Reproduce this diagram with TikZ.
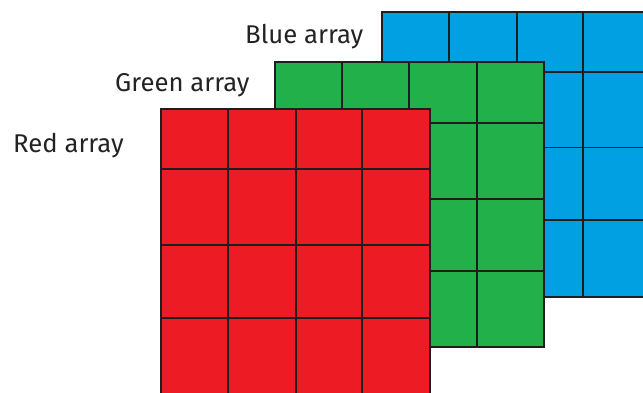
\documentclass[tikz,border=0pt]{standalone}
\usepackage{fontspec}
\setmainfont{Fira Sans}
\definecolor{arrblue}{RGB}{0,160,227}
\definecolor{arrgreen}{RGB}{34,176,74}
\definecolor{arrred}{RGB}{237,28,36}
\definecolor{gridline}{RGB}{30,30,30}
\definecolor{labeltext}{RGB}{35,35,35}
\tikzset{
  gridstroke/.style={draw=gridline, line width=1.4pt},
  arraylabel/.style={anchor=base west, inner sep=0pt, text=labeltext, font=\fontsize{25.7}{30}\selectfont},
}
\begin{document}
\begin{tikzpicture}[x=1pt,y=-1pt]
\useasboundingbox (0,0) rectangle (643,392);
\clip (0,0) rectangle (643,392);
% Blue array
\fill[arrblue] (382,12) rectangle (650,297);
\foreach \xx in {449,517,583} \draw[gridstroke] (\xx,12) -- (\xx,297);
\foreach \yy in {72,147.5,220} \draw[gridstroke] (382,\yy) -- (650,\yy);
\draw[gridstroke] (382,12) rectangle (650,297);
% Green array
\fill[arrgreen] (275,62) rectangle (544,347);
\foreach \xx in {342,409,477} \draw[gridstroke] (\xx,62) -- (\xx,347);
\foreach \yy in {123,199,271} \draw[gridstroke] (275,\yy) -- (544,\yy);
\draw[gridstroke] (275,62) rectangle (544,347);
% Red array
\fill[arrred] (161,109) rectangle (430,395);
\foreach \xx in {228,296,362} \draw[gridstroke] (\xx,109) -- (\xx,395);
\foreach \yy in {169,245,318} \draw[gridstroke] (161,\yy) -- (430,\yy);
\draw[gridstroke] (161,109) rectangle (430,395);
% Labels
\node[arraylabel] (lblue) at (245,43) {Blue array};
\node[arraylabel] (lgreen) at (115,91) {Green array};
\node[arraylabel] (lred) at (13,152) {Red array};
\end{tikzpicture}
\end{document}
